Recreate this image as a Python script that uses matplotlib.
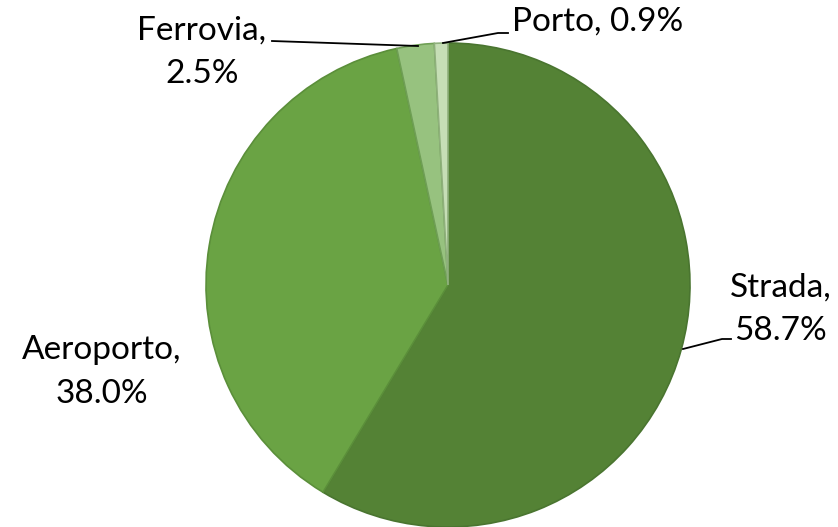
import matplotlib
matplotlib.use('Agg')
import matplotlib.pyplot as plt

plt.rcParams['font.family'] = ['Lato', 'DejaVu Sans']

categories = ['Strada', 'Aeroporto', 'Ferrovia', 'Porto']
shares = [58.7, 38.0, 2.5, 0.9]
colors = ['#548235', '#6aa344', '#97c27f', '#c6deb6']
edges = ['#4a7530', '#5b8f3a', '#6f9f55', '#8fb07c']

W, H = 838, 527
fig = plt.figure(figsize=(W / 100, H / 100), dpi=100)
ax = fig.add_axes([0, 0, 1, 1])

wedges, _ = ax.pie(shares, colors=colors, startangle=90, counterclock=False,
                   center=(448, H - 285), radius=242,
                   wedgeprops=dict(linewidth=1.2))
for w, ec in zip(wedges, edges):
    w.set_edgecolor(ec)

labels = ['%s,\n%.1f%%' % (c, v) for c, v in zip(categories, shares)]
labels[3] = '%s, %.1f%%' % (categories[3], shares[3])

fs = 24
ls = 1.55
ax.text(781, H - 309, labels[0], fontsize=fs, ha='center', va='center', linespacing=ls)
ax.text(102, H - 372, labels[1], fontsize=fs, ha='center', va='center', linespacing=ls)
ax.text(202, H - 52, labels[2], fontsize=fs, ha='center', va='center', linespacing=ls)
ax.text(598, H - 22, labels[3], fontsize=fs, ha='center', va='center')

# leader lines
ax.plot([683, 722, 731], [H - 349, H - 339, H - 339], color='black', lw=1.3)
ax.plot([272, 418], [H - 41, H - 46], color='black', lw=1.3)
ax.plot([443, 498, 508], [H - 43, H - 33, H - 33], color='black', lw=1.3)

ax.set_xlim(0, W)
ax.set_ylim(0, H)
ax.set_aspect('auto')
ax.axis('off')

fig.savefig('out.png', dpi=100)
